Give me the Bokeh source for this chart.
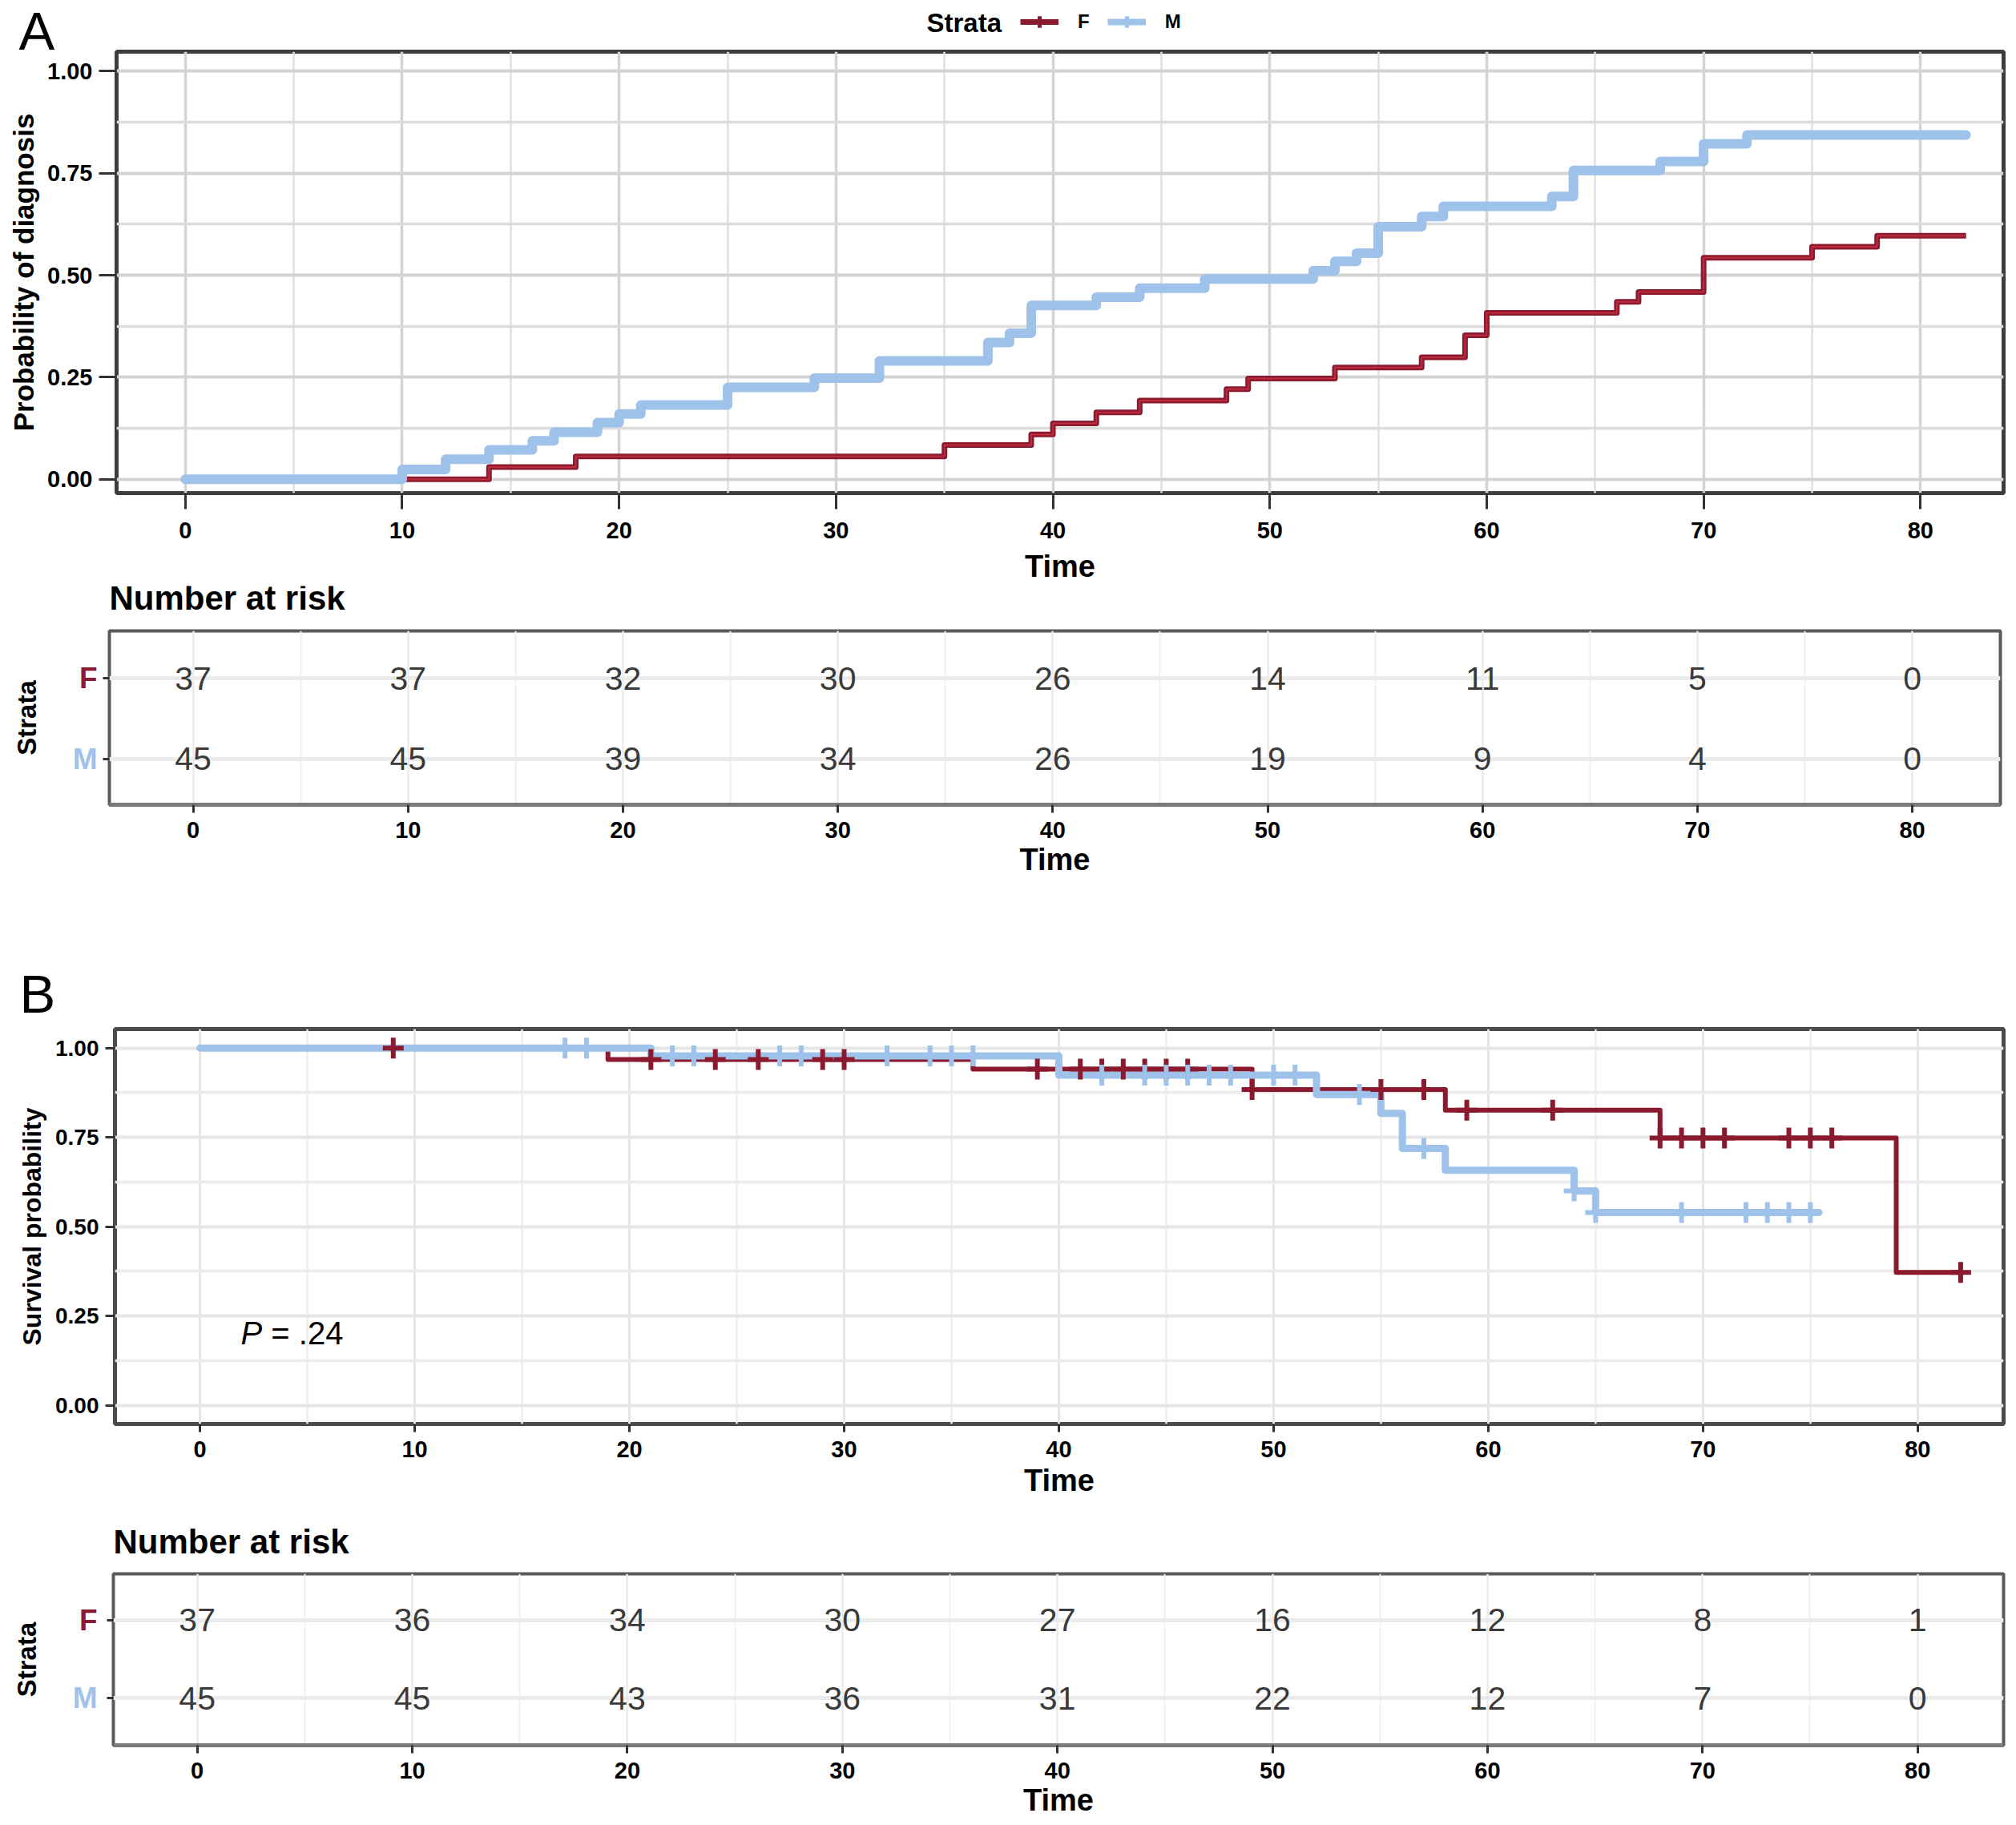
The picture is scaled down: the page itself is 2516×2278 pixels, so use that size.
import numpy as np
from bokeh.plotting import figure
from bokeh.models import (Range1d, FixedTicker, Label, Legend, LegendItem,
                          ColumnDataSource, NumeralTickFormatter)
from bokeh.layouts import column, row
from bokeh.embed import file_html
from bokeh.resources import INLINE
from bokeh.core.properties import value

FONT = "Liberation Sans"
RED = "#8B1A2E"
RED_IN = "#BE2A3E"
BLUE = "#9EC2EA"
W = 2510

# ---------------- data ----------------
time_ticks = [0, 10, 20, 30, 40, 50, 60, 70, 80]
time_minor = [5, 15, 25, 35, 45, 55, 65, 75]
prob_ticks = [0.0, 0.25, 0.5, 0.75, 1.0]
prob_minor = [0.125, 0.375, 0.625, 0.875]
strata = ["F", "M"]

# Panel A: probability of diagnosis (cumulative)
a_f_time = [0, 14, 18, 35, 39, 40, 42, 44, 48, 49, 53, 57, 59, 60, 66, 67, 70, 75, 78, 82.1]
a_f_prob = [0, 0.030, 0.056, 0.084, 0.110, 0.137, 0.164, 0.193, 0.221, 0.247, 0.274,
            0.299, 0.353, 0.408, 0.435, 0.459, 0.543, 0.570, 0.597, 0.597]
a_m_time = [0, 10, 12, 14, 16, 17, 19, 20, 21, 25, 29, 32, 37, 38, 39, 42, 44, 47, 52,
            53, 54, 55, 57, 58, 63, 64, 68, 70, 72, 82.1]
a_m_prob = [0, 0.024, 0.049, 0.072, 0.094, 0.115, 0.139, 0.160, 0.182, 0.225, 0.248,
            0.290, 0.335, 0.358, 0.426, 0.446, 0.468, 0.491, 0.511, 0.534, 0.554, 0.619,
            0.644, 0.669, 0.693, 0.757, 0.779, 0.822, 0.844, 0.844]

# Panel B: survival probability
b_f_time = [0, 19, 36, 49, 58, 68, 79, 82]
b_f_surv = [1.0, 0.968, 0.941, 0.884, 0.826, 0.748, 0.372, 0.372]
b_f_cens = [9, 21, 24, 26, 29, 30, 39, 41, 42, 43, 44, 45, 46, 49, 55, 57, 59, 63, 68,
            69, 70, 71, 74, 75, 76, 82]
b_m_time = [0, 21, 40, 52, 55, 56, 58, 64, 65, 75.4]
b_m_surv = [1.0, 0.978, 0.924, 0.870, 0.817, 0.719, 0.658, 0.600, 0.540, 0.540]
b_m_cens = [17, 18, 22, 23, 27, 28, 32, 34, 35, 36, 42, 44, 45, 46, 47, 48, 50, 51, 54,
            57, 64, 65, 69, 72, 73, 74, 75]
p_value_text = "= .24"

# Numbers at risk
risk_a_f = [37, 37, 32, 30, 26, 14, 11, 5, 0]
risk_a_m = [45, 45, 39, 34, 26, 19, 9, 4, 0]
risk_b_f = [37, 36, 34, 30, 27, 16, 12, 8, 1]
risk_b_m = [45, 45, 43, 36, 31, 22, 12, 7, 0]


def step_at(times, vals, t):
    idx = np.searchsorted(np.asarray(times), t, side="right") - 1
    return vals[max(idx, 0)]


def base_fig(w, h, xr, yr, left, right, top, bottom):
    p = figure(width=w, height=h, x_range=Range1d(*xr), y_range=Range1d(*yr),
               output_backend="svg", toolbar_location=None,
               min_border_left=left, min_border_right=right,
               min_border_top=top, min_border_bottom=bottom)
    p.background_fill_color = "white"
    p.border_fill_color = "white"
    for ax in (p.xaxis[0], p.yaxis[0]):
        ax.axis_line_color = None
        ax.minor_tick_line_color = None
        ax.major_tick_in = 0
        ax.major_tick_line_color = "#333333"
        ax.major_tick_line_width = 3
        ax.major_label_text_font = FONT
        ax.major_label_text_font_style = "bold"
        ax.major_label_text_color = "black"
        ax.axis_label_text_font = FONT
        ax.axis_label_text_font_style = "bold"
        ax.axis_label_text_color = "black"
    p.xaxis.ticker = FixedTicker(ticks=time_ticks, minor_ticks=time_minor)
    return p


def blank_fig(w, h, xr, yr):
    p = figure(width=w, height=h, x_range=xr, y_range=yr,
               output_backend="svg", toolbar_location=None,
               x_axis_location=None, y_axis_location=None,
               min_border_left=0, min_border_right=0,
               min_border_top=0, min_border_bottom=0)
    p.outline_line_color = None
    p.background_fill_color = "white"
    p.border_fill_color = "white"
    p.grid.visible = False
    return p


def put_text(p, x, y, txt, size, style="normal", color="black", align="left",
             baseline="middle", angle=0.0):
    p.text(x=[x], y=[y], text=[txt], text_font=value(FONT), text_font_size=value(size),
           text_font_style=style, text_color=color, text_align=align,
           text_baseline=baseline, angle=angle)


# ---------------- header A (panel letter + legend) ----------------
hA = blank_fig(W, 62, Range1d(0, W), Range1d(62, 0))
put_text(hA, 23, 38, "A", "67px")
put_text(hA, 1156, 28, "Strata", "33px", "bold")
# legend keys (placeholder sources: no point is drawn in the header itself)
key_src = ColumnDataSource(dict(x=[np.nan], y=[np.nan]))
kF = hA.line("x", "y", source=key_src, line_color=RED, line_width=7)
kFc = hA.scatter("x", "y", source=key_src, marker="cross", size=18, line_width=5,
                 line_color=RED)
kM = hA.line("x", "y", source=key_src, line_color=BLUE, line_width=8)
kMc = hA.scatter("x", "y", source=key_src, marker="cross", size=18, line_width=5,
                 line_color=BLUE)
legend = Legend(items=[LegendItem(label=strata[0], renderers=[kF, kFc]),
                       LegendItem(label=strata[1], renderers=[kM, kMc])],
                orientation="horizontal", location=(1273, 17),
                glyph_width=48, glyph_height=36, label_standoff=24, spacing=22,
                padding=0, margin=0, label_width=0, label_height=0,
                border_line_color=None, background_fill_alpha=0,
                label_text_font=FONT, label_text_font_size="24px",
                label_text_font_style="bold", label_text_color="black")
hA.add_layout(legend)

# ---------------- Panel A ----------------
pA = base_fig(W, 669, (-3.17, 83.83), (-0.034, 1.048), 145, 10, 2, 116)
pA.outline_line_color = "#3d3d3d"
pA.outline_line_width = 5
pA.yaxis.ticker = FixedTicker(ticks=prob_ticks, minor_ticks=prob_minor)
pA.yaxis.formatter = NumeralTickFormatter(format="0.00")
pA.xgrid.grid_line_color = "#d4d4d4"
pA.xgrid.grid_line_width = 3.5
pA.xgrid.minor_grid_line_color = "#e0e0e0"
pA.xgrid.minor_grid_line_width = 2.5
pA.ygrid.grid_line_color = "#d4d4d4"
pA.ygrid.grid_line_width = 4
pA.ygrid.minor_grid_line_color = "#dcdcdc"
pA.ygrid.minor_grid_line_width = 3.5
pA.yaxis.major_tick_out = 22
pA.yaxis.major_label_standoff = 8
pA.yaxis.major_label_text_font_size = "29px"
pA.yaxis.axis_label = "Probability of diagnosis"
pA.yaxis.axis_label_text_font_size = "35px"
pA.yaxis.axis_label_standoff = 7
pA.xaxis.major_tick_out = 20
pA.xaxis.major_label_standoff = 16
pA.xaxis.major_label_text_font_size = "29px"
pA.xaxis.axis_label = "Time"
pA.xaxis.axis_label_text_font_size = "38px"
pA.xaxis.axis_label_standoff = 11

srcAF = ColumnDataSource(dict(t=a_f_time, p=a_f_prob))
srcAM = ColumnDataSource(dict(t=a_m_time, p=a_m_prob))
pA.step("t", "p", source=srcAF, mode="after", line_color=RED, line_width=7,
        line_join="round")
pA.step("t", "p", source=srcAF, mode="after", line_color=RED_IN, line_width=2,
        line_join="round")
pA.step("t", "p", source=srcAM, mode="after", line_color=BLUE, line_width=12,
        line_join="round", line_cap="round")


# ---------------- Risk tables ----------------
def risk_block(side_w, h, xr, yr, right, top, bottom, f_vals, m_vals):
    t = base_fig(W - side_w, h, xr, yr, 10, right, top, bottom)
    t.outline_line_color = "#5a5a5a"
    t.outline_line_width = 4
    t.yaxis.ticker = FixedTicker(ticks=[1, 2])
    t.yaxis.major_label_overrides = {1: "", 2: ""}
    t.yaxis.major_tick_out = 8
    t.yaxis.major_label_standoff = 0
    t.xaxis.major_tick_out = 10
    t.xaxis.major_label_standoff = 11
    t.xaxis.major_label_text_font_size = "29px"
    t.xaxis.axis_label = "Time"
    t.xaxis.axis_label_text_font_size = "38px"
    t.xaxis.axis_label_standoff = 3
    t.xaxis.axis_line_color = "#7a7a7a"
    t.xaxis.axis_line_width = 5
    t.xgrid.grid_line_color = "#ececec"
    t.xgrid.grid_line_width = 2.5
    t.xgrid.minor_grid_line_color = "#f0f0f0"
    t.xgrid.minor_grid_line_width = 2
    t.ygrid.grid_line_color = "#ebebeb"
    t.ygrid.grid_line_width = 5
    src = ColumnDataSource(dict(
        t=time_ticks + time_ticks,
        row=[2] * len(time_ticks) + [1] * len(time_ticks),
        n=[str(v) for v in f_vals] + [str(v) for v in m_vals]))
    t.text("t", "row", text="n", source=src, text_align="center",
           text_baseline="middle", text_font=value(FONT),
           text_font_size=value("41px"), text_color="#3a3a3a")
    # strata labels to the left of the table, sharing its vertical scale
    s = figure(width=side_w, height=h, x_range=Range1d(0, side_w), y_range=t.y_range,
               output_backend="svg", toolbar_location=None,
               x_axis_location=None, y_axis_location=None,
               min_border_left=0, min_border_right=0,
               min_border_top=top, min_border_bottom=bottom)
    s.outline_line_color = None
    s.grid.visible = False
    mid = (yr[0] + yr[1]) / 2
    put_text(s, 33, mid, "Strata", "33px", "bold", align="center", angle=np.pi / 2)
    put_text(s, 121, 2, strata[0], "37px", "bold", RED, "right")
    put_text(s, 121, 1, strata[1], "37px", "bold", BLUE, "right")
    return row(s, t, spacing=0)


hTA = blank_fig(W, 51, Range1d(0, W), Range1d(782, 731))
put_text(hTA, 136, 746, "Number at risk", "42px", "bold")
tA = risk_block(126, 318, (-3.9, 84.1), (0.429, 2.587), 14, 5, 96, risk_a_f, risk_a_m)

# ---------------- Panel B ----------------
hB = blank_fig(W, 170, Range1d(0, W), Range1d(1270, 1100))
put_text(hB, 24, 1240, "B", "67px")

pB = base_fig(W, 610, (-3.96, 84.0), (-0.052, 1.053), 143, 10, 14, 103)
pB.outline_line_color = "#4a4a4a"
pB.outline_line_width = 5
pB.yaxis.ticker = FixedTicker(ticks=prob_ticks, minor_ticks=prob_minor)
pB.yaxis.formatter = NumeralTickFormatter(format="0.00")
pB.xgrid.grid_line_color = "#e6e6e6"
pB.xgrid.grid_line_width = 3
pB.xgrid.minor_grid_line_color = "#eeeeee"
pB.xgrid.minor_grid_line_width = 2.5
pB.ygrid.grid_line_color = "#e6e6e6"
pB.ygrid.grid_line_width = 4
pB.ygrid.minor_grid_line_color = "#ececec"
pB.ygrid.minor_grid_line_width = 3.5
pB.yaxis.major_tick_out = 12
pB.yaxis.major_label_standoff = 8
pB.yaxis.major_label_text_font_size = "28px"
pB.yaxis.axis_label = "Survival probability"
pB.yaxis.axis_label_text_font_size = "32px"
pB.yaxis.axis_label_standoff = 8
pB.xaxis.major_tick_out = 10
pB.xaxis.major_label_standoff = 11
pB.xaxis.major_label_text_font_size = "29px"
pB.xaxis.axis_label = "Time"
pB.xaxis.axis_label_text_font_size = "38px"
pB.xaxis.axis_label_standoff = 5

srcBF = ColumnDataSource(dict(t=b_f_time, s=b_f_surv))
srcBM = ColumnDataSource(dict(t=b_m_time, s=b_m_surv))
pB.step("t", "s", source=srcBF, mode="after", line_color=RED, line_width=6,
        line_join="round")
pB.step("t", "s", source=srcBM, mode="after", line_color=BLUE, line_width=9,
        line_join="round", line_cap="round")
cBF = ColumnDataSource(dict(t=b_f_cens, s=[step_at(b_f_time, b_f_surv, t) for t in b_f_cens]))
cBM = ColumnDataSource(dict(t=b_m_cens, s=[step_at(b_m_time, b_m_surv, t) for t in b_m_cens]))
pB.scatter("t", "s", source=cBF, marker="cross", size=26, line_width=6, line_color=RED)
pB.scatter("t", "s", source=cBM, marker="cross", size=26, line_width=6, line_color=BLUE)
pB.add_layout(Label(x=1.9, y=0.203, text="P", text_font=FONT, text_font_size="40px",
                    text_font_style="italic", text_baseline="middle",
                    text_color="black"))
pB.add_layout(Label(x=3.31, y=0.203, text=p_value_text, text_font=FONT,
                    text_font_size="40px", text_baseline="middle",
                    text_color="black"))

hTB = blank_fig(W, 78, Range1d(0, W), Range1d(1958, 1880))
put_text(hTB, 141, 1924, "Number at risk", "42px", "bold")
tB = risk_block(131, 312, (-3.9, 84.0), (0.40, 2.59), 10, 6, 87, risk_b_f, risk_b_m)

layout = column(row(hA), row(pA), row(hTA), tA, row(hB), row(pB), row(hTB), tB,
                spacing=0)
open("out.html", "w").write(file_html(layout, INLINE))
